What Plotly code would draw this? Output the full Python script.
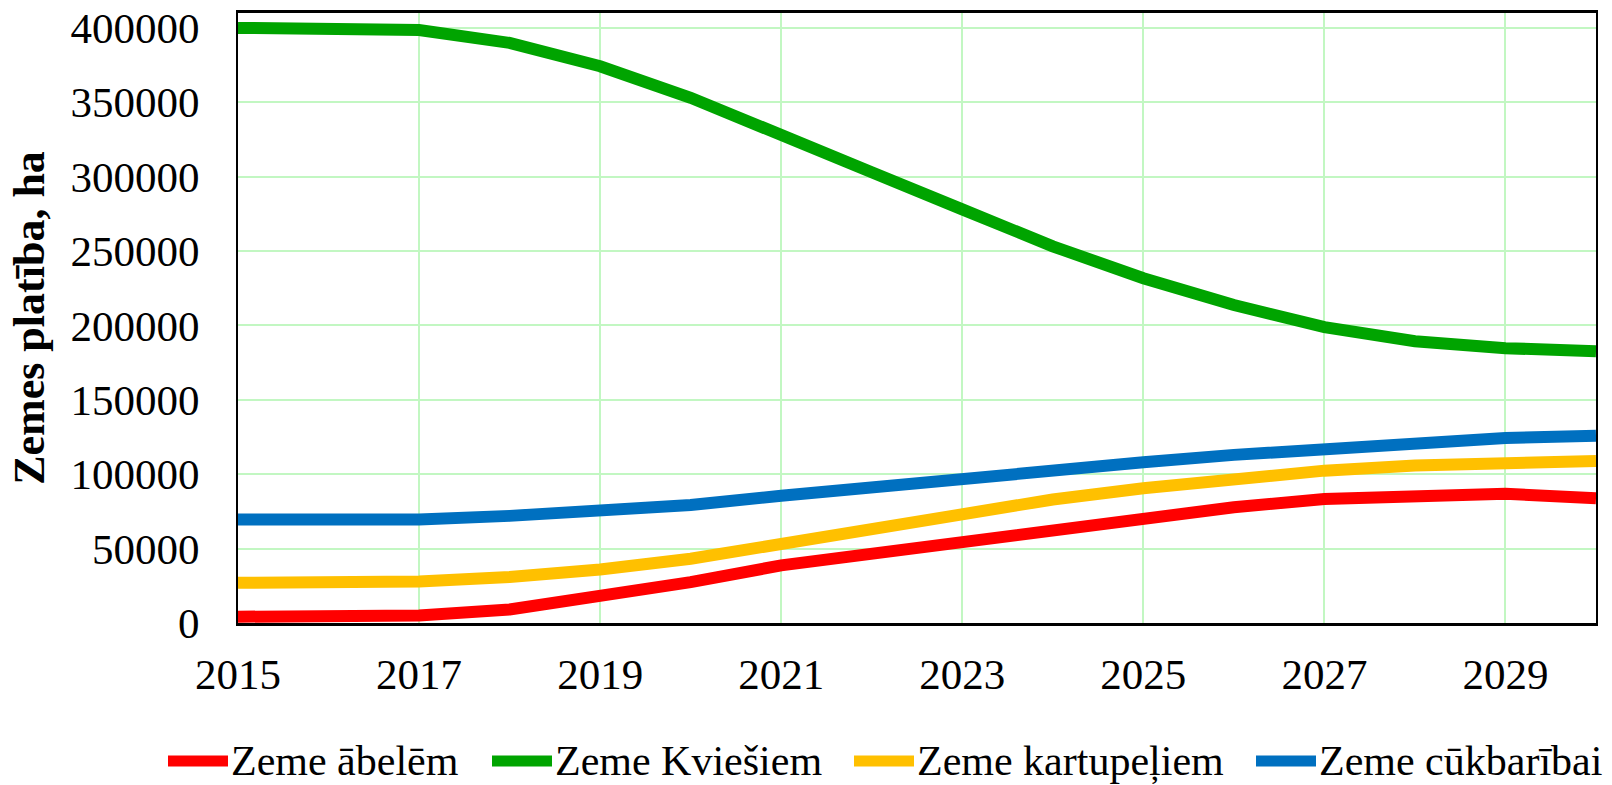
import plotly.graph_objects as go

years = list(range(2015, 2031))
abelem = [4200, 4200, 5100, 9100, 17400, 27500, 38700, 46500, 53200, 61000, 69300, 77800, 83400, 86100, 86800, 83900]
kviesiem = [400000, 400000, 398500, 389900, 374200, 353000, 327000, 303000, 278000, 253200, 231700, 213700, 198900, 189400, 184700, 182700]
kartupeliem = [27000, 27000, 27900, 30900, 36000, 43200, 53200, 64400, 74500, 83000, 90600, 96800, 102400, 105800, 108000, 108900]
cukbaribai = [69500, 69500, 69500, 72000, 75000, 79300, 85500, 91500, 97300, 103500, 108000, 113000, 117400, 121500, 124300, 125900]

names = ["Zeme ābelēm", "Zeme Kviešiem", "Zeme kartupeļiem", "Zeme cūkbarībai"]
colors = ["#FF0000", "#00A400", "#FFC000", "#0070C0"]
series = [abelem, kviesiem, kartupeliem, cukbaribai]

FONT = "Liberation Serif, Times New Roman, serif"
W, H = 1612, 785
ML, MR, MT, MB = 238, 16, 13, 785 - 623
PW, PH = W - ML - MR, H - MT - MB

fig = go.Figure()
for name, color, vals in zip(names, colors, series):
    fig.add_trace(go.Scatter(x=years, y=vals, name=name, mode="lines",
                             line=dict(color=color, width=12), showlegend=False))

# custom legend (sample line + label), positioned in paper coordinates
legend_starts_px = [168, 492, 854, 1256]
sample_len = 60
legend_y_px = 761
ly = (H - MB - legend_y_px) / PH
for name, color, x0 in zip(names, colors, legend_starts_px):
    xa = (x0 - ML) / PW
    xb = (x0 + sample_len - ML) / PW
    fig.add_shape(type="line", xref="paper", yref="paper", x0=xa, x1=xb, y0=ly, y1=ly,
                  line=dict(color=color, width=11))
    fig.add_annotation(xref="paper", yref="paper", x=(x0 + sample_len + 2 - ML) / PW, y=ly,
                       xanchor="left", yanchor="middle", text=name, showarrow=False,
                       borderpad=0, font=dict(family=FONT, size=42, color="black"))

grid = "#c2f7c2"
fig.update_layout(
    width=W, height=H,
    margin=dict(l=ML, r=MR, t=MT, b=MB, autoexpand=False),
    plot_bgcolor="white", paper_bgcolor="white",
    font=dict(family=FONT, size=43, color="black"),
    showlegend=False,
)
fig.update_xaxes(range=[2015, 2030], tick0=2015, dtick=2, showgrid=True, gridcolor=grid, gridwidth=2,
                 showline=True, linecolor="black", linewidth=2.5, mirror=True,
                 ticks="", ticklabelstandoff=12, zeroline=False, ticklabeloverflow="allow",
                 tickfont=dict(family=FONT, size=43))
fig.update_yaxes(range=[0, 410000], dtick=50000, showgrid=True, gridcolor=grid, gridwidth=2,
                 showline=True, linecolor="black", linewidth=2, mirror=True,
                 ticks="", ticklabelstandoff=28, zeroline=False, tickformat="d",
                 ticklabeloverflow="allow",
                 tickfont=dict(family=FONT, size=43),
                 title=dict(text="<b>Zemes platība, ha</b>", font=dict(family=FONT, size=44), standoff=12))

fig.write_html("out.html", config={"displayModeBar": False},
               post_script="document.body.style.margin='0';document.body.style.overflow='hidden';")
